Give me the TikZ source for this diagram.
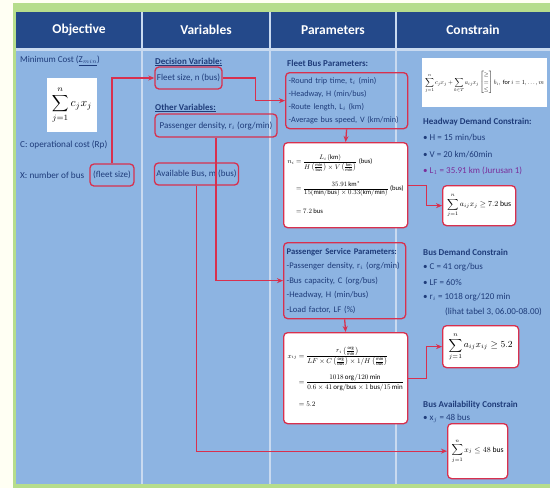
\documentclass[tikz,border=0pt]{standalone}
\usepackage{amsmath}
\usepackage{graphicx}
\usepackage{fontspec}
\setmainfont{Carlito}
\usetikzlibrary{arrows.meta}
\definecolor{bodyblue}{HTML}{8DB4E2}
\definecolor{headblue}{HTML}{24498A}
\definecolor{redc}{HTML}{D8304E}
\definecolor{navy}{HTML}{1F3C7A}
\definecolor{greenb}{HTML}{B6DD8C}
\definecolor{creamb}{HTML}{FFFFF3}
\definecolor{sepc}{HTML}{C9DAF0}
\definecolor{purp}{HTML}{7A2E9A}
\begin{document}
\begin{tikzpicture}[x=1pt,y=-1pt,
 hdr/.style={font=\fontsize{13.5}{15}\selectfont\bfseries, text=white},
 txt/.style={font=\fontsize{9}{11}\selectfont, text=navy, anchor=west, inner sep=0},
 btxt/.style={txt, font=\fontsize{9}{11}\selectfont\bfseries},
 rbox/.style={draw=redc, line width=1.3pt, rounded corners=4pt, inner sep=2pt,
   font=\fontsize{9}{11}\selectfont, text=navy},
 lbox/.style={rbox, anchor=north west, align=left, inner xsep=3pt},
 wbox/.style={rbox, fill=white, text=black, anchor=north west},
 conn/.style={draw=redc, line width=1.3pt, -{Stealth[length=6pt,width=5pt]}},
 ]
\useasboundingbox (0,0) rectangle (550,488);
% background
\fill[creamb] (0,0) rectangle (550,488);
\fill[greenb] (13,3) rectangle (550,488);
\fill[bodyblue] (16,12) rectangle (550,484);
\fill[headblue] (16,12) rectangle (550,48);
\fill[sepc] (16,48) rectangle (550,51);
\foreach \x in {142,270,396} \fill[sepc] (\x-0.7,12) rectangle (\x+0.7,484);
% headers
\node[hdr] (h1) at (79,30) {Objective};
\node[hdr] (h2) at (206,30) {Variables};
\node[hdr] (h3) at (333,30) {Parameters};
\node[hdr] (h4) at (473,30) {Constrain};
% column 1
\node[txt, font=\fontsize{9}{11}\selectfont] (zmin) at (20,61) {Minimum Cost (\underline{Z$_{min}$})};
\node[fill=white, minimum width=50, minimum height=54, inner sep=0] (objf) at (72,105)
  {\resizebox{40pt}{!}{$\displaystyle\sum_{j=1}^{n} c_j x_j$}};
\node[txt, font=\fontsize{9.2}{11}\selectfont] (ctext) at (20,145) {C: operational cost (Rp)};
\node[txt, font=\fontsize{9.2}{11}\selectfont] (xtext) at (20,175) {X: number of bus};
\node[rbox, font=\fontsize{9}{11}\selectfont, minimum width=44, minimum height=22, inner sep=1pt] (fs) at (112,175) {(fleet size)};
% column 2
\node[btxt] (dvt) at (155,62) {\underline{Decision Variable:}};
\node[rbox, minimum width=67, minimum height=22] (dv) at (188.5,78) {Fleet size, n (bus)};
\node[btxt] (ovt) at (155,108) {\underline{Other Variables:}};
\node[rbox, minimum width=122, minimum height=23] (pd) at (216,125.5) {Passenger density, r$_i$ (org/min)};
\node[rbox, minimum width=83, minimum height=22] (ab) at (196.5,174) {Available Bus, m (bus)};
% column 3
\node[btxt] (fbpt) at (287,63) {Fleet Bus Parameters:};
\node[lbox, text width=116, minimum height=56, font=\fontsize{8.2}{13}\selectfont] (fbp) at (285,72)
  {-Round trip time, t$_i$ (min)\\-Headway, H (min/bus)\\-Route length, L$_i$ (km)\\-Average bus speed, V (km/min)};
\node[wbox, minimum width=124, minimum height=85, inner sep=3pt] (f1) at (283,142)
  {\resizebox{116pt}{!}{\begin{tabular}{@{}l@{}}
   $n_i=\dfrac{L_i\,(\mathrm{km})}{H\left(\frac{\mathrm{min}}{\mathrm{bus}}\right)\times V\left(\frac{\mathrm{km}}{\mathrm{min}}\right)}$ (bus)\\[20pt]
   $\phantom{n_i}=\dfrac{35.91\,\mathrm{km}^{*}}{15(\mathrm{min/bus})\times 0.33(\mathrm{km/min})}$ (bus)\\[20pt]
   $\phantom{n_i}=7.2$ bus\end{tabular}}};
\node[lbox, text width=116, minimum height=76, font=\fontsize{8.6}{14.5}\selectfont] (psp) at (283,242)
  {\textbf{Passenger Service Parameters:}\\-Passenger density, r$_i$ (org/min)\\-Bus capacity, C (org/bus)\\-Headway, H (min/bus)\\-Load factor, LF (\%)};
\node[wbox, minimum width=124, minimum height=91, inner sep=3pt] (f2) at (283,332)
  {\resizebox{116pt}{!}{\begin{tabular}{@{}l@{}}
   $x_{ij}=\dfrac{r_i\left(\frac{\mathrm{org}}{\mathrm{min}}\right)}{LF\times C\left(\frac{\mathrm{org}}{\mathrm{bus}}\right)\times 1/H\left(\frac{\mathrm{min}}{\mathrm{bus}}\right)}$\\[18pt]
   $\phantom{x_{ij}}=\dfrac{1018\,\mathrm{org}/120\,\mathrm{min}}{0.6\times 41\,\mathrm{org/bus}\times 1\,\mathrm{bus}/15\,\mathrm{min}}$\\[18pt]
   $\phantom{x_{ij}}=5.2$\end{tabular}}};
% column 4
\node[fill=white, anchor=north west, minimum width=125, minimum height=49, inner sep=2pt] (genf) at (422,58)
  {\resizebox{119pt}{!}{$\displaystyle\sum_{j=1}^{n} c_j x_j+\sum_{k\in T} a_{ij}x_j\begin{bmatrix}\ge\\=\\\le\end{bmatrix} b_i,\ \text{for } i=1,\ldots,m$}};
\node[btxt] (hdc) at (423,122) {Headway Demand Constrain:};
\node[txt] (hd1) at (423,138) {• H = 15 min/bus};
\node[txt] (hd2) at (423,155) {• V = 20 km/60min};
\node[txt, text=purp] (hd3) at (423,171) {• L$_1$ = 35.91 km (Jurusan 1)};
\node[wbox, minimum width=73, minimum height=40] (c1) at (442,185)
  {\resizebox{64pt}{!}{$\displaystyle\sum_{j=1}^{n} a_{ij}x_j\ge 7.2\ \text{bus}$}};
\node[btxt] (bdc) at (423,252) {Bus Demand Constrain};
\node[txt] (bd1) at (423,267) {• C = 41 org/bus};
\node[txt] (bd2) at (423,282) {• LF = 60\%};
\node[txt] (bd3) at (423,297) {• r$_i$ = 1018 org/120 min};
\node[txt] (bd4) at (445,312) {(lihat tabel 3, 06.00-08.00)};
\node[wbox, minimum width=76, minimum height=42] (c2) at (442,325)
  {\resizebox{64pt}{!}{$\displaystyle\sum_{j=1}^{n} a_{ij}x_{ij}\ge 5.2$}};
\node[btxt] (bac) at (423,405) {Bus Availability Constrain};
\node[txt] (ba1) at (423,418) {• x$_j$ = 48 bus};
\node[wbox, minimum width=60, minimum height=55] (c3) at (447,423)
  {\resizebox{52pt}{!}{$\displaystyle\sum_{j=1}^{n} x_j\le 48\ \text{bus}$}};
% connectors
\draw[conn] (fs.north) |- (dv.west);
\draw[conn] (dv.east) -- ++(33,0) |- (fbp.west);
\draw[conn] (pd.south) |- (psp.west);
\draw[conn] (ab.south) |- (c3.west);
\draw[conn] (fbp.south) -- (f1.north);
\draw[conn] (psp.south) -- (f2.north);
\draw[conn] (f1.east) -- ++(18,0) |- (c1.west);
\draw[conn] (f2.east) -- ++(18,0) |- (c2.west);
\end{tikzpicture}
\end{document}
